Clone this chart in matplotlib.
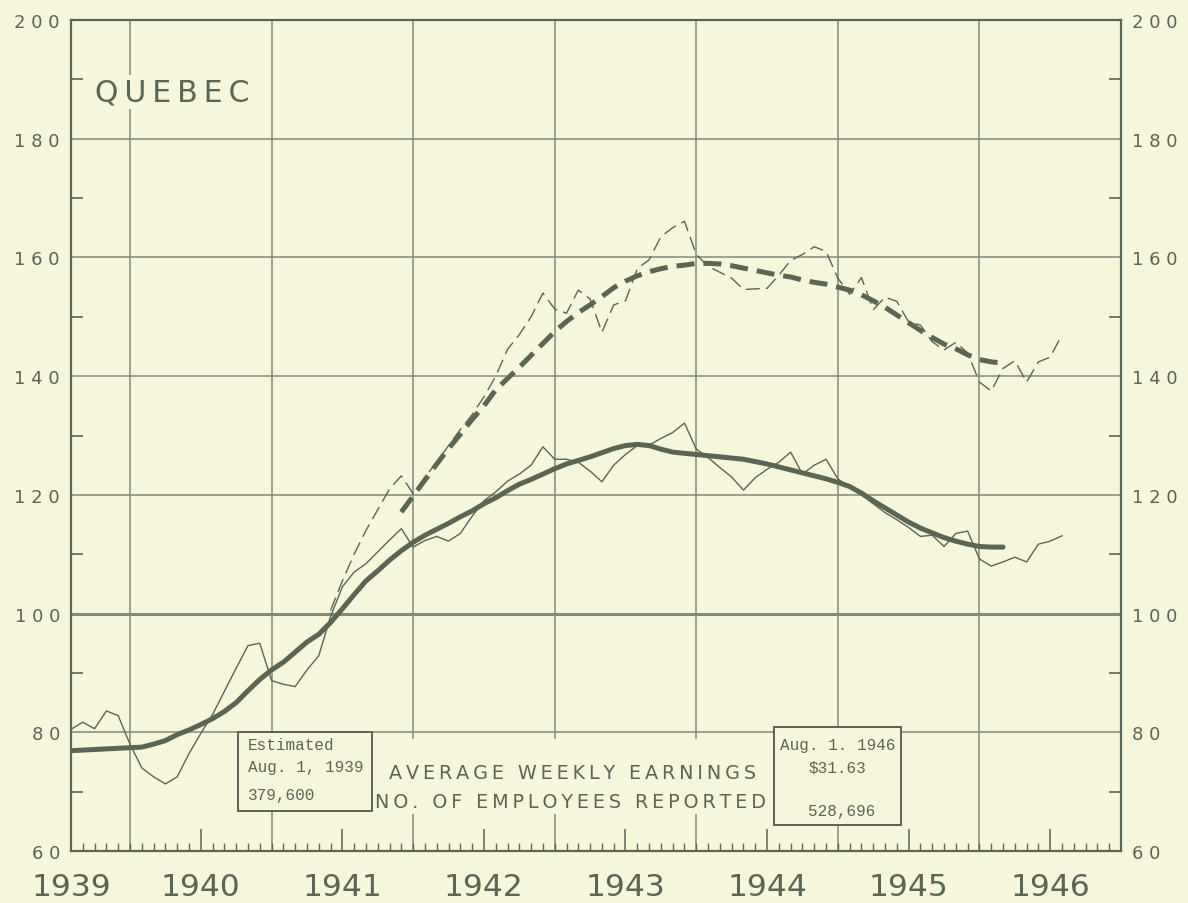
import matplotlib
matplotlib.use("Agg")
import matplotlib.pyplot as plt
from matplotlib.patches import Rectangle
from matplotlib.ticker import FixedLocator

# x = months counted from Aug. 1, 1939 (monthly readings on the 1st)
employees = [
    80.5, 81.7, 80.6, 83.6, 82.8, 78.0, 74.0, 72.5, 71.3, 72.5,
    76.4, 79.8, 83.0, 86.9, 90.8, 94.6, 95.0, 88.7, 88.1, 87.7,
    90.5, 92.9, 99.5, 104.5, 107.0, 108.4, 110.4, 112.4, 114.3, 111.2,
    112.3, 113.0, 112.2, 113.5, 116.4, 119.0, 120.5, 122.3, 123.5, 125.0,
    128.1, 126.0, 126.0, 125.5, 124.0, 122.2, 125.0, 126.8, 128.3, 128.4,
    129.5, 130.5, 132.1, 127.7, 126.3, 124.6, 123.0, 120.8, 122.9, 124.3,
    125.5, 127.2, 123.5, 125.0, 126.0, 122.7, 121.3, 120.0, 118.5, 117.0,
    115.8, 114.5, 113.0, 113.2, 111.3, 113.5, 113.9, 109.2, 108.0, 108.7,
    109.5, 108.7, 111.7, 112.2, 113.1,
]
employees_trend = [
    76.9, 77.0, 77.1, 77.2, 77.3, 77.4, 77.5, 78.0, 78.6, 79.6,
    80.4, 81.3, 82.3, 83.5, 85.0, 87.0, 88.9, 90.5, 91.8, 93.5,
    95.2, 96.5, 98.5, 100.8, 103.2, 105.5, 107.2, 109.0, 110.6, 112.0,
    113.2, 114.2, 115.2, 116.3, 117.3, 118.5, 119.5, 120.7, 121.8, 122.6,
    123.5, 124.4, 125.2, 125.8, 126.4, 127.1, 127.8, 128.3, 128.5, 128.3,
    127.7, 127.2, 127.0, 126.8, 126.6, 126.4, 126.2, 126.0, 125.6, 125.2,
    124.7, 124.2, 123.7, 123.2, 122.7, 122.1, 121.4, 120.3, 119.0, 117.8,
    116.6, 115.4, 114.4, 113.6, 112.8, 112.2, 111.7, 111.3, 111.2, 111.2,
]

earnings_start = 22  # June 1, 1941
earnings = [
    100.5, 105.5, 110.0, 114.0, 117.5, 121.0, 123.2, 120.2,
    123.0, 125.5, 128.3, 131.0, 133.5, 136.5, 140.0, 144.5, 147.0, 150.0,
    154.0, 151.3, 150.6, 154.5, 153.0, 147.4, 152.0, 152.7, 158.1, 159.6,
    163.5, 165.0, 166.1, 160.5, 158.5, 157.5, 156.5, 154.6, 154.7, 154.8,
    157.0, 159.5, 160.5, 161.8, 161.0, 156.5, 153.8, 156.6, 151.2, 153.3,
    152.6, 149.1, 148.6, 145.8, 144.4, 145.7, 143.9, 139.0, 137.5, 141.3,
    142.6, 139.0, 142.4, 143.2, 147.0,
]
earnings_trend_start = 28
earnings_trend = [
    117.1, 119.8, 122.5, 125.2, 127.8, 130.2, 132.7, 135.0, 137.7, 139.6,
    141.5, 143.5, 145.5, 147.5, 149.2, 150.7, 152.0, 153.4, 154.9, 156.0,
    156.9, 157.6, 158.1, 158.5, 158.7, 159.0, 159.0, 158.9, 158.6, 158.2,
    157.8, 157.4, 157.0, 156.7, 156.2, 155.8, 155.5, 155.0, 154.5, 153.7,
    152.7, 151.6, 150.3, 149.0, 147.7, 146.5, 145.4, 144.6, 143.6, 142.8,
    142.4, 142.2,
]

years = [1939, 1940, 1941, 1942, 1943, 1944, 1945, 1946]
year_label_months = [0, 11, 23, 35, 47, 59, 71, 83]
january_months = [5, 17, 29, 41, 53, 65, 77]
y_ticks = [60, 80, 100, 120, 140, 160, 180, 200]

BG = "#f5f6da"
INK = "#5b6554"
GRID = "#828b7b"
THIN = "\u2009"


def spaced(s):
    return THIN.join(s)


fig = plt.figure(figsize=(11.88, 9.04), dpi=100, facecolor=BG)
ax = fig.add_axes([71 / 1188, 52 / 904, 1050 / 1188, 831 / 904])
ax.set_facecolor(BG)
ax.set_xlim(0, 89)
ax.set_ylim(60, 200)

for sp in ax.spines.values():
    sp.set_color(INK)
    sp.set_linewidth(1.6)

# grid
ax.set_yticks(y_ticks)
ax.set_yticklabels([" ".join(str(v)) for v in y_ticks])
ax.yaxis.set_minor_locator(FixedLocator(range(70, 200, 20)))
ax.yaxis.set_ticks_position("both")
ax.tick_params(axis="y", which="major", length=0, labelleft=True, labelright=True,
               labelsize=13, labelcolor=INK, pad=8)
ax.tick_params(axis="y", which="minor", direction="in", length=8.5, width=1.2, color=INK)
for v in y_ticks[1:-1]:
    ax.axhline(v, color=GRID, lw=2.2 if v == 100 else 1.1, zorder=1)
for m in january_months:
    ax.axvline(m, color=GRID, lw=1.1, zorder=1)

ax.set_xticks(year_label_months)
ax.set_xticklabels([str(y) for y in years])
ax.xaxis.set_minor_locator(FixedLocator([m for m in range(1, 89) if m not in year_label_months]))
ax.tick_params(axis="x", which="major", direction="in", length=16, width=1.1, color=INK,
               labelsize=22.5, labelcolor=INK, pad=15)
ax.tick_params(axis="x", which="minor", direction="in", length=6, width=1.0, color=INK)

# series
ax.plot(range(len(employees)), employees, color=INK, lw=1.0, zorder=3)
ax.plot(range(len(employees_trend)), employees_trend, color=INK, lw=3.6,
        solid_capstyle="round", zorder=3)
ax.plot(range(earnings_start, earnings_start + len(earnings)), earnings,
        color=INK, lw=1.0, dashes=(10, 4.5), zorder=3)
ax.plot(range(earnings_trend_start, earnings_trend_start + len(earnings_trend)),
        earnings_trend, color=INK, lw=3.6, dashes=(3.6, 1.8), zorder=3)

ax.text(2.0, 187.9, spaced("QUEBEC"), fontsize=21.5, color=INK, ha="left", va="center",
        zorder=4, bbox=dict(facecolor=BG, edgecolor="none", pad=2))

# boxes at the bottom
ax.add_patch(Rectangle((14.13, 66.75), 11.42, 13.3, facecolor=BG, edgecolor=INK,
                       lw=1.4, zorder=2))
ax.add_patch(Rectangle((25.97, 66.2), 33.0, 12.7, facecolor=BG, edgecolor="none", zorder=2))
ax.add_patch(Rectangle((59.56, 64.4), 10.83, 16.5, facecolor=BG, edgecolor=INK,
                       lw=1.4, zorder=2))

mono = dict(family="Liberation Mono", fontsize=11.5, color=INK, zorder=4)
ax.text(14.97, 77.9, "Estimated", ha="left", va="center", **mono)
ax.text(14.97, 74.3, "Aug. 1, 1939", ha="left", va="center", **mono)
ax.text(14.97, 69.6, "379,600", ha="left", va="center", **mono)

ax.text(65.0, 77.9, "Aug. 1. 1946", ha="center", va="center", **mono)
ax.text(65.0, 74.2, "$31.63", ha="center", va="center", **mono)
ax.text(65.3, 66.8, "528,696", ha="center", va="center", **mono)

ax.text(42.5, 73.3, spaced("AVERAGE WEEKLY EARNINGS"), fontsize=13.8, color=INK,
        ha="center", va="center", zorder=4)
ax.text(42.3, 68.3, spaced("NO. OF EMPLOYEES REPORTED"), fontsize=13.8, color=INK,
        ha="center", va="center", zorder=4)

fig.savefig("out.png", dpi=100, facecolor=BG)
